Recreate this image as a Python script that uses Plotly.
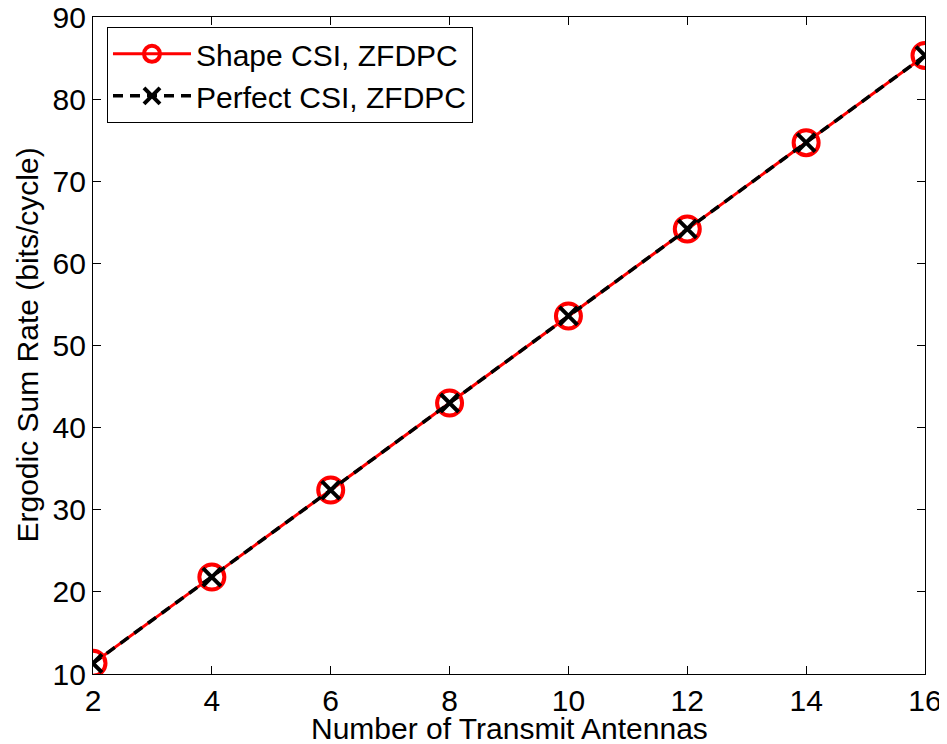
import plotly.graph_objects as go

antennas = [2, 4, 6, 8, 10, 12, 14, 16]
shape_csi = [11.3, 21.8, 32.4, 43.0, 53.6, 64.2, 74.7, 85.3]
perfect_csi = [11.3, 21.8, 32.4, 43.0, 53.6, 64.2, 74.7, 85.3]
x_ticks = [2, 4, 6, 8, 10, 12, 14, 16]
y_ticks = [10, 20, 30, 40, 50, 60, 70, 80, 90]

font = "Liberation Sans, Arial, sans-serif"
FS = 30

fig = go.Figure()
fig.add_trace(go.Scatter(
    x=antennas, y=shape_csi, mode="lines+markers", name="Shape CSI, ZFDPC",
    line=dict(color="#ff0000", width=3),
    marker=dict(symbol="circle-open", size=25, color="#ff0000", line=dict(width=4, color="#ff0000")),
))
fig.add_trace(go.Scatter(
    x=antennas, y=perfect_csi, mode="lines+markers", name="Perfect CSI, ZFDPC",
    line=dict(color="#000000", width=3.5, dash="10px,7px"),
    marker=dict(symbol="x-thin-open", size=18, color="#000000", line=dict(width=4, color="#000000")),
))

axis_common = dict(
    showgrid=False, zeroline=False, showline=True, linecolor="black", linewidth=1.2,
    mirror="ticks", ticks="inside", ticklen=8, tickcolor="black", tickwidth=1,
    tickfont=dict(family=font, size=FS, color="black"), automargin=False,
    ticklabeloverflow="allow",
)
fig.update_layout(
    width=939, height=736,
    margin=dict(l=85, r=22, t=9, b=70, autoexpand=False),
    paper_bgcolor="white", plot_bgcolor="white",
    font=dict(family=font, color="black"),
    xaxis=dict(range=[2, 16], tickvals=x_ticks, ticktext=[str(v) for v in x_ticks], **axis_common),
    yaxis=dict(range=[10, 90], tickvals=y_ticks, ticktext=[str(v) for v in y_ticks], **axis_common),
    legend=dict(x=0.0168, y=0.985, xanchor="left", yanchor="top",
                bgcolor="white", bordercolor="black", borderwidth=1,
                font=dict(family=font, size=FS, color="black"),
                itemwidth=78, tracegroupgap=0),
    showlegend=True,
    annotations=[
        dict(text="Number of Transmit Antennas", x=0.5, y=0, xref="paper", yref="paper",
             xanchor="center", yanchor="middle", yshift=-54, showarrow=False,
             font=dict(family=font, size=FS, color="black")),
        dict(text="Ergodic Sum Rate (bits/cycle)", x=0, y=0.5, xref="paper", yref="paper",
             xanchor="center", yanchor="middle", xshift=-66, textangle=-90, showarrow=False,
             font=dict(family=font, size=FS, color="black")),
    ],
)
fig.write_html("out.html")
